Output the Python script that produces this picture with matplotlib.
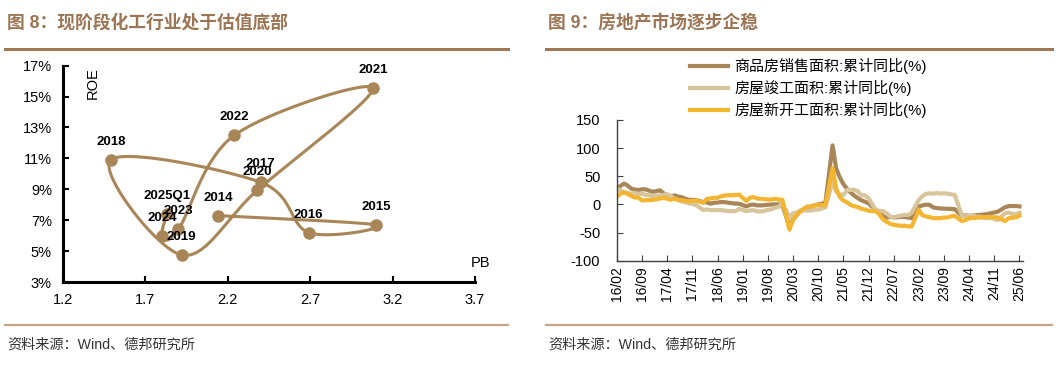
import numpy as np
import matplotlib.pyplot as plt
from matplotlib.lines import Line2D

plt.rcParams['font.family'] = ['Liberation Sans', 'Noto Sans CJK SC', 'DejaVu Sans']
plt.rcParams['axes.unicode_minus'] = False

W, H = 1062, 366

# ---- 图8 数据：PB-ROE 轨迹 ----
years = ['2014', '2015', '2016', '2017', '2018', '2019', '2020',
         '2021', '2022', '2023', '2024', '2025Q1']
pb = [2.14, 3.10, 2.69, 2.40, 1.49, 1.92, 2.38, 3.08, 2.24, 1.90, 1.80, 1.83]
roe = [7.3, 6.7, 6.2, 9.45, 10.9, 4.75, 8.95, 15.55, 12.5, 6.4, 5.95, 7.4]

# ---- 图9 数据：累计同比(%)，2016/02-2025/06，每年2-12月（无1月）----
sales = [28.2, 33.1, 37.1, 33.2, 27.9, 26.4, 25.5, 26.9, 26.8, 24.3, 22.5,
         25.1, 19.5, 15.7, 14.3, 16.1, 14.0, 12.7, 10.3, 8.2, 7.9, 7.7,
         4.1, 3.6, 1.3, 2.9, 3.3, 4.2, 4.0, 2.9, 2.2, 1.4, 1.3,
         -3.6, -0.9, -0.3, -1.6, -1.8, -1.3, -0.6, -0.1, 0.1, 0.2, -0.1,
         -39.9, -26.3, -19.3, -12.3, -8.4, -5.8, -3.3, -1.8, 0.0, 1.3, 2.6,
         104.9, 63.8, 48.1, 36.3, 27.7, 21.5, 15.9, 11.3, 7.5, 4.8, 1.9,
         -9.6, -13.8, -20.9, -23.6, -22.2, -23.1, -23.0, -22.2, -22.3, -23.3, -24.3,
         -3.6, -1.8, -0.4, -0.9, -5.3, -6.5, -7.1, -7.5, -7.8, -8.0, -8.5,
         -20.5, -19.4, -20.2, -20.3, -19.0, -18.6, -18.0, -17.1, -15.8, -14.3, -12.9,
         -5.1, -3.0, -2.8, -2.9, -3.5]
completed = [28.0, 25.0, 22.0, 20.0, 19.0, 20.0, 19.0, 19.0, 17.0, 16.0, 15.0,
             16.0, 17.0, 18.0, 15.0, 10.0, 8.0, 5.0, 4.0, 2.0, 1.0, -1.0,
             -10.0, -9.0, -10.0, -10.0, -10.0, -10.0, -11.0, -12.0, -12.0, -12.0, -8.0,
             -11.9, -10.8, -10.3, -12.4, -12.7, -11.3, -9.9, -8.6, -5.5, -4.5, 2.6,
             -22.9, -15.8, -14.5, -10.5, -10.5, -11.0, -10.8, -9.2, -9.2, -7.3, -4.9,
             40.4, 22.9, 17.9, 16.4, 25.7, 25.7, 26.0, 23.4, 16.3, 16.0, 11.2,
             -9.8, -11.5, -11.9, -15.3, -21.5, -23.3, -21.1, -19.9, -18.7, -19.0, -15.0,
             8.0, 14.7, 18.8, 19.6, 19.0, 20.5, 19.2, 19.8, 19.0, 17.9, 17.0,
             -20.2, -20.7, -20.4, -19.3, -21.8, -21.8, -23.6, -24.4, -23.9, -26.0, -27.7,
             -15.6, -14.3, -16.9, -17.3, -14.8]
new_start = [13.7, 19.2, 21.4, 18.5, 14.9, 12.3, 12.2, 6.8, 7.7, 7.6, 8.1,
             10.4, 11.6, 9.9, 8.1, 10.6, 7.9, 7.7, 6.4, 5.6, 6.3, 7.0,
             2.9, 9.7, 10.5, 11.8, 11.8, 14.4, 15.9, 16.4, 16.3, 16.8, 17.2,
             6.0, 11.9, 13.1, 10.5, 10.1, 9.5, 8.9, 8.6, 10.0, 8.6, 8.5,
             -44.9, -27.2, -18.4, -12.8, -7.6, -3.6, -3.6, -2.4, -0.7, -1.1, -1.2,
             64.3, 28.2, 12.8, 6.9, 3.8, -0.9, -3.2, -4.5, -7.7, -9.1, -11.4,
             -12.2, -17.5, -26.3, -30.6, -34.4, -36.1, -37.2, -38.0, -37.8, -38.9, -39.4,
             -9.4, -19.2, -21.2, -22.6, -24.3, -24.5, -24.4, -23.4, -23.2, -21.2, -20.4,
             -29.7, -27.8, -24.6, -24.2, -23.7, -23.2, -22.5, -22.2, -22.6, -23.0, -23.0,
             -29.6, -24.4, -23.8, -22.8, -20.0]
series_names = ['商品房销售面积:累计同比(%)', '房屋竣工面积:累计同比(%)',
                '房屋新开工面积:累计同比(%)']
tick_labels = ['16/02', '16/09', '17/04', '17/11', '18/06', '19/01', '19/08',
               '20/03', '20/10', '21/05', '21/12', '22/07', '23/02', '23/09',
               '24/04', '24/11', '25/06']

BROWN = '#a98658'
TITLE_C = '#9b7554'


def smooth(xs, ys, n=40):
    # Excel 风格平滑线 (Catmull-Rom / Bezier)
    P = np.column_stack([xs, ys]).astype(float)
    P = np.vstack([P[0], P, P[-1]])
    t = np.linspace(0, 1, n)[:, None]
    out = []
    for i in range(1, len(P) - 2):
        p0, p1, p2, p3 = P[i - 1], P[i], P[i + 1], P[i + 2]
        c1 = p1 + (p2 - p0) / 6
        c2 = p2 - (p3 - p1) / 6
        out.append((1 - t) ** 3 * p1 + 3 * (1 - t) ** 2 * t * c1
                   + 3 * (1 - t) * t ** 2 * c2 + t ** 3 * p2)
    out = np.vstack(out)
    return out[:, 0], out[:, 1]


def fx(px):
    return px / W


def fy(py):
    return 1 - py / H


fig = plt.figure(figsize=(W / 100, H / 100), dpi=100)

# ---- 标题、分隔线、来源 ----
fig.text(fx(7), fy(23), '图 8：现阶段化工行业处于估值底部', fontsize=12.8,
         fontweight='bold', color=TITLE_C, va='center', ha='left')
fig.text(fx(548), fy(23), '图 9：房地产市场逐步企稳', fontsize=12.8,
         fontweight='bold', color=TITLE_C, va='center', ha='left')
for x0, x1 in [(5, 508), (546, 1052)]:
    fig.add_artist(Line2D([fx(x0), fx(x1)], [fy(49), fy(49)],
                          color='#a07a55', lw=2.2, transform=fig.transFigure))
    fig.add_artist(Line2D([fx(x0), fx(x1)], [fy(325), fy(325)],
                          color='#c4a585', lw=1.6, transform=fig.transFigure))
fig.text(fx(7), fy(345), '资料来源：Wind、德邦研究所', fontsize=10.2,
         color='#333333', va='center', ha='left')
fig.text(fx(548), fy(345), '资料来源：Wind、德邦研究所', fontsize=10.2,
         color='#333333', va='center', ha='left')

# ---- 左图 ----
ax1 = fig.add_axes([fx(63), fy(282), fx(475) - fx(63), fy(65.7) - fy(282)])
sx, sy = smooth(pb, roe)
ax1.plot(sx, sy, color=BROWN, lw=2.2, solid_capstyle='round')
ax1.plot(pb, roe, 'o', color=BROWN, ms=8)
for yr, x, y in zip(years, pb, roe):
    ax1.annotate(yr, (x, y), xytext=(0, 13), textcoords='offset points',
                 ha='center', va='center', fontsize=9.5, fontweight='bold')
ax1.set_xlim(1.2, 3.7)
ax1.set_ylim(3, 17)
ax1.set_xticks(np.arange(1.2, 3.71, 0.5))
ax1.set_xticklabels(['1.2', '1.7', '2.2', '2.7', '3.2', '3.7'])
ax1.set_yticks(np.arange(3, 17.1, 2))
ax1.set_yticklabels([f'{v}%' for v in range(3, 18, 2)])
for s in ['top', 'right']:
    ax1.spines[s].set_visible(False)
for s in ['left', 'bottom']:
    ax1.spines[s].set_linewidth(2.2)
ax1.tick_params(direction='in', length=4, width=1.5, labelsize=10.5, pad=8)
ax1.text(fx(93), fy(83), 'ROE', rotation=90, fontsize=10.5, ha='center',
         va='center', transform=fig.transFigure)
ax1.text(fx(480), fy(263), 'PB', fontsize=10.5, ha='center', va='center',
         transform=fig.transFigure)

# ---- 右图 ----
months = [(y, m) for y in range(2016, 2026) for m in range(2, 13)
          if (y, m) <= (2025, 6)]
xm = [(y - 2016) * 12 + (m - 2) for y, m in months]
ax2 = fig.add_axes([fx(617), fy(260.7), fx(1023) - fx(617), fy(120) - fy(260.7)])
colors = [BROWN, '#d9c59c', '#f4b531']
for vals, c, name in zip([sales, completed, new_start], colors, series_names):
    ax2.plot(xm, vals, color=c, lw=3, label=name, solid_joinstyle='round')
ax2.set_xlim(0, 113)
ax2.set_ylim(-100, 150)
ax2.set_xticks(range(0, 113, 7))
ax2.set_xticklabels(tick_labels, rotation=90)
ax2.set_yticks(range(-100, 151, 50))
for s in ['top', 'right']:
    ax2.spines[s].set_visible(False)
for s in ['left', 'bottom']:
    ax2.spines[s].set_color('#404040')
    ax2.spines[s].set_linewidth(1.0)
ax2.tick_params(direction='in', length=4, color='#404040')
ax2.tick_params(axis='y', labelsize=10.5, pad=12)
ax2.tick_params(axis='x', labelsize=10, pad=4)
ax2.legend(loc='upper left', bbox_to_anchor=(fx(690), fy(58)),
           bbox_transform=fig.transFigure, frameon=False, fontsize=10.8,
           borderpad=0, borderaxespad=0, handlelength=2.5, handletextpad=0.45,
           labelspacing=0.4)

fig.savefig('out.png', dpi=100)
